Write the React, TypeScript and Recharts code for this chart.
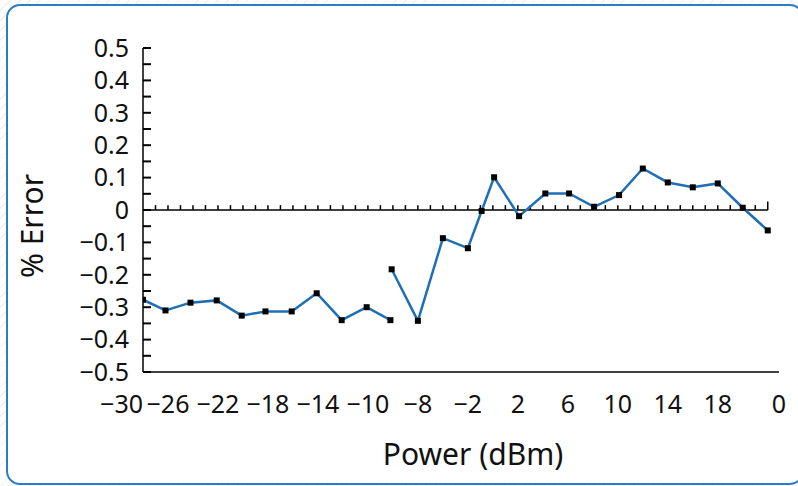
import React from 'react';
import { LineChart, Line, XAxis, YAxis, ReferenceLine } from 'recharts';

const powerX: number[] = [-28, -26.2, -24.2, -22.1, -20.1, -18.2, -16.1, -14.1, -12.1, -10.1, -8.2, -8.15, -8.1, -6, -4, -2, -0.9, 0.1, 2.1, 4.2, 6.1, 8.1, 10.1, 12, 14, 16, 18, 20, 22];
const errorY: (number | null)[] = [-0.277, -0.31, -0.286, -0.279, -0.326, -0.313, -0.313, -0.257, -0.34, -0.3, -0.34, null, -0.183, -0.342, -0.087, -0.118, -0.003, 0.101, -0.019, 0.051, 0.051, 0.01, 0.046, 0.128, 0.085, 0.07, 0.082, 0.007, -0.063];

const xTicks: number[] = [-28, -26, -22, -18, -14, -10, -6, -2, 2, 6, 10, 14, 18, 22.9];
const xTickLabels: string[] = ['−30', '−26', '−22', '−18', '−14', '−10', '−8', '−2', '2', '6', '10', '14', '18', '0'];

const yTicks: number[] = [-0.5, -0.45, -0.4, -0.35, -0.3, -0.25, -0.2, -0.15, -0.1, -0.05, 0, 0.05, 0.1, 0.15, 0.2, 0.25, 0.3, 0.35, 0.4, 0.45, 0.5];
const yTickLabels: string[] = ['−0.5', '', '−0.4', '', '−0.3', '', '−0.2', '', '−0.1', '', '0', '', '0.1', '', '0.2', '', '0.3', '', '0.4', '', '0.5'];

const zeroMinorTicks: number[] = [-27, -26, -25, -24, -23, -22, -21, -20, -19, -18, -17, -16, -15, -14, -13, -12, -11, -10, -9, -8, -7, -6, -5, -4, -3, -2, -1, 0, 1, 2, 3, 4, 5, 6, 7, 8, 9, 10, 11, 12, 13, 14, 15, 16, 17, 18, 19, 20, 21];
const zeroEndTick = 22;

const data = powerX.map((x, i) => ({ x, y: errorY[i] }));

const FONT = '"Noto Sans", "Open Sans", sans-serif';
const LINE_COLOR = '#1f6fb5';
const TICK_FONT = 25;

const SquareDot = (props: any) => {
  const { cx, cy, value } = props;
  if (value == null || cx == null || cy == null) return null;
  return <rect x={cx - 3} y={cy - 3} width={6} height={6} fill="#000" />;
};

const XTick = (props: any) => {
  const { x, y, index } = props;
  return (
    <text
      x={x}
      y={y}
      dy={18}
      textAnchor={index === 0 ? 'end' : 'middle'}
      fontSize={TICK_FONT}
      fontFamily={FONT}
      fill="#111"
    >
      {xTickLabels[index]}
    </text>
  );
};

export default function App() {
  return (
    <div style={{ position: 'absolute', left: 0, top: 0, width: 798, height: 486, overflow: 'hidden',
      background: 'repeating-linear-gradient(135deg, #f0f0f0 0px, #f0f0f0 1px, #ffffff 1px, #ffffff 7px)' }}>
      <div style={{ position: 'absolute', left: 6, top: 4, width: 798, height: 481, boxSizing: 'border-box',
        border: '2px solid #2a7cc7', borderRadius: 14, background: '#fff' }} />
      <div style={{ position: 'absolute', left: 0, top: 0 }}>
        <LineChart width={798} height={486} data={data} margin={{ top: 48, right: 19, bottom: 14, left: 0 }}>
          <XAxis
            type="number"
            dataKey="x"
            domain={[-28, 22.9]}
            allowDataOverflow
            ticks={xTicks}
            interval={0}
            tickLine={false}
            tickSize={8}
            tickMargin={15}
            height={100}
            axisLine={{ stroke: '#000', strokeWidth: 1.5 }}
            tick={<XTick />}
            label={{ value: 'Power (dBm)', position: 'insideBottom', offset: 7, dx: 12, fontSize: 30, fontFamily: FONT, fill: '#111' }}
          />
          <YAxis
            type="number"
            domain={[-0.5, 0.5]}
            ticks={yTicks}
            interval={0}
            width={143}
            tickSize={-8}
            tickMargin={22}
            tickFormatter={(v: number, i: number) => yTickLabels[i]}
            axisLine={{ stroke: '#000', strokeWidth: 1.5 }}
            tickLine={{ stroke: '#000', strokeWidth: 2 }}
            tick={{ fontSize: TICK_FONT, fontFamily: FONT, fill: '#111' }}
            label={{ value: '% Error', angle: -90, position: 'insideLeft', offset: 32, dy: 16, fontSize: 30, fontFamily: FONT, fill: '#111', style: { textAnchor: 'middle' } }}
          />
          <ReferenceLine segment={[{ x: -28, y: 0 }, { x: zeroEndTick, y: 0 }]} stroke="#000" strokeWidth={1.5} ifOverflow="visible" />
          {zeroMinorTicks.map((t) => (
            <ReferenceLine key={t} segment={[{ x: t, y: 0 }, { x: t, y: 0.015 }]} stroke="#000" strokeWidth={1.5} ifOverflow="visible" />
          ))}
          <ReferenceLine segment={[{ x: zeroEndTick, y: 0 }, { x: zeroEndTick, y: 0.026 }]} stroke="#000" strokeWidth={1.5} ifOverflow="visible" />
          <Line
            type="linear"
            dataKey="y"
            stroke={LINE_COLOR}
            strokeWidth={2.5}
            dot={<SquareDot />}
            activeDot={false}
            connectNulls={false}
            isAnimationActive={false}
          />
        </LineChart>
      </div>
    </div>
  );
}
